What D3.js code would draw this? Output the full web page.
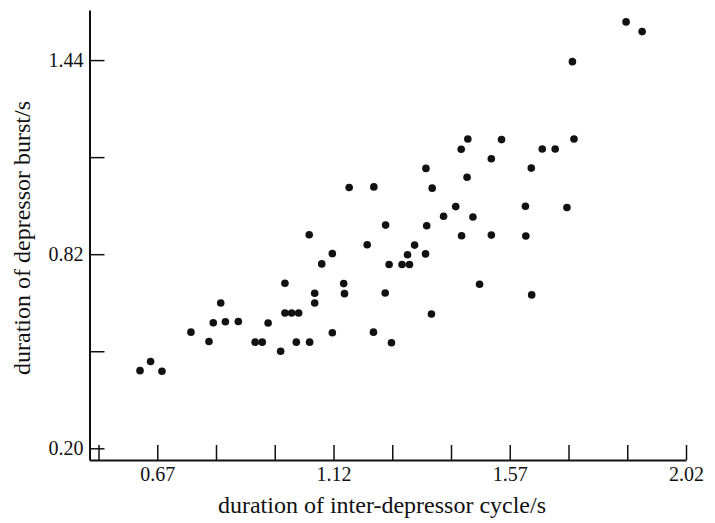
<!DOCTYPE html>
<html>
<head>
<meta charset="utf-8">
<script src="https://cdn.jsdelivr.net/npm/d3@7"></script>
<style>
  body { margin: 0; background: #fff; }
  .chart text { font-family: "Liberation Serif", "DejaVu Serif", serif; fill: #111; }
</style>
</head>
<body>
<div class="chart"></div>
<script>
// inter-depressor cycle duration (s)
var cycle = [0.626, 0.653, 0.682, 0.756, 0.802, 0.813, 0.832, 0.844, 0.877, 0.920,
             0.938, 0.953, 0.985, 0.996, 0.996, 1.013, 1.031, 1.025, 1.059, 1.058,
             1.072, 1.072, 1.090, 1.117, 1.117, 1.146, 1.148, 1.160, 1.206, 1.223,
             1.222, 1.252, 1.253, 1.262, 1.268, 1.295, 1.309, 1.314, 1.327, 1.356,
             1.358, 1.355, 1.372, 1.370, 1.401, 1.432, 1.446, 1.447, 1.461, 1.463,
             1.476, 1.493, 1.523, 1.523, 1.549, 1.610, 1.611, 1.625, 1.626, 1.653,
             1.686, 1.716, 1.730, 1.734, 1.867, 1.908];
// depressor burst duration (s)
var burst = [0.448, 0.477, 0.446, 0.571, 0.541, 0.601, 0.664, 0.604, 0.605, 0.539,
             0.539, 0.600, 0.510, 0.727, 0.632, 0.632, 0.632, 0.539, 0.539, 0.882,
             0.695, 0.664, 0.789, 0.822, 0.569, 0.726, 0.694, 1.033, 0.850, 1.035,
             0.571, 0.696, 0.913, 0.787, 0.537, 0.787, 0.818, 0.787, 0.849, 1.094,
             0.911, 0.821, 1.031, 0.629, 0.941, 0.972, 1.155, 0.879, 1.066, 1.188,
             0.939, 0.724, 1.125, 0.881, 1.186, 0.973, 0.878, 1.095, 0.690, 1.156,
             1.156, 0.969, 1.435, 1.188, 1.562, 1.531];

var xTicks = [0.52, 0.67, 0.82, 0.97, 1.12, 1.27, 1.42, 1.57, 1.72, 1.87, 2.02];
var xLabels = [0.67, 1.12, 1.57, 2.02];
var yTicks = [0.20, 0.51, 0.82, 1.13, 1.44];
var yLabels = [0.20, 0.82, 1.44];

function init(){
  var dataset = cycle.map(function(d, i){
    return {x: d, y: burst[i]};
  });
  scatterPlot(dataset);
}

function scatterPlot(dataset){
  var w = 715;
  var h = 523;
  var serif = '"Liberation Serif", "DejaVu Serif", serif';

  var svg = d3.select(".chart")
              .append("svg")
              .attr("width", w)
              .attr("height", h);

  var x = d3.scaleLinear()
            .domain([0.497, 2.02])
            .range([89.5, 686]);

  var y = d3.scaleLinear()
            .domain([0.1626, 1.60])
            .range([460, 10]);

  var xAxis = d3.axisBottom(x)
                .tickValues(xTicks)
                .tickSizeInner(-15)
                .tickSizeOuter(0)
                .tickPadding(7)
                .tickFormat(function(d){
                  return xLabels.indexOf(d) >= 0 ? d3.format(".2f")(d) : "";
                });

  var yAxis = d3.axisLeft(y)
                .tickValues(yTicks)
                .tickSizeInner(-15)
                .tickSizeOuter(0)
                .tickPadding(6)
                .tickFormat(function(d){
                  return yLabels.indexOf(d) >= 0 ? d3.format(".2f")(d) : "";
                });

  var gx = svg.append("g")
              .attr("transform", "translate(0,460)")
              .call(xAxis);

  var gy = svg.append("g")
              .attr("transform", "translate(89.5,0)")
              .call(yAxis);

  [gx, gy].forEach(function(g){
    g.attr("font-family", serif).attr("font-size", 20);
    g.select(".domain").attr("stroke", "#111").attr("stroke-width", 2);
    g.selectAll(".tick line").attr("stroke", "#111").attr("stroke-width", 1.5);
    g.selectAll(".tick text").attr("fill", "#111");
  });

  svg.append("g")
      .attr("fill", "#111")
    .selectAll("circle")
    .data(dataset)
    .join("circle")
      .attr("cx", function(d){ return x(d.x); })
      .attr("cy", function(d){ return y(d.y); })
      .attr("r", 3.8);

  svg.append("text")
      .attr("x", 382)
      .attr("y", 513)
      .attr("text-anchor", "middle")
      .style("font-size", "24px")
      .text("duration of inter-depressor cycle/s");

  svg.append("text")
      .attr("transform", "translate(30,238) rotate(-90)")
      .attr("text-anchor", "middle")
      .style("font-size", "24px")
      .text("duration of depressor burst/s");
}

window.onload = init;
</script>
</body>
</html>
